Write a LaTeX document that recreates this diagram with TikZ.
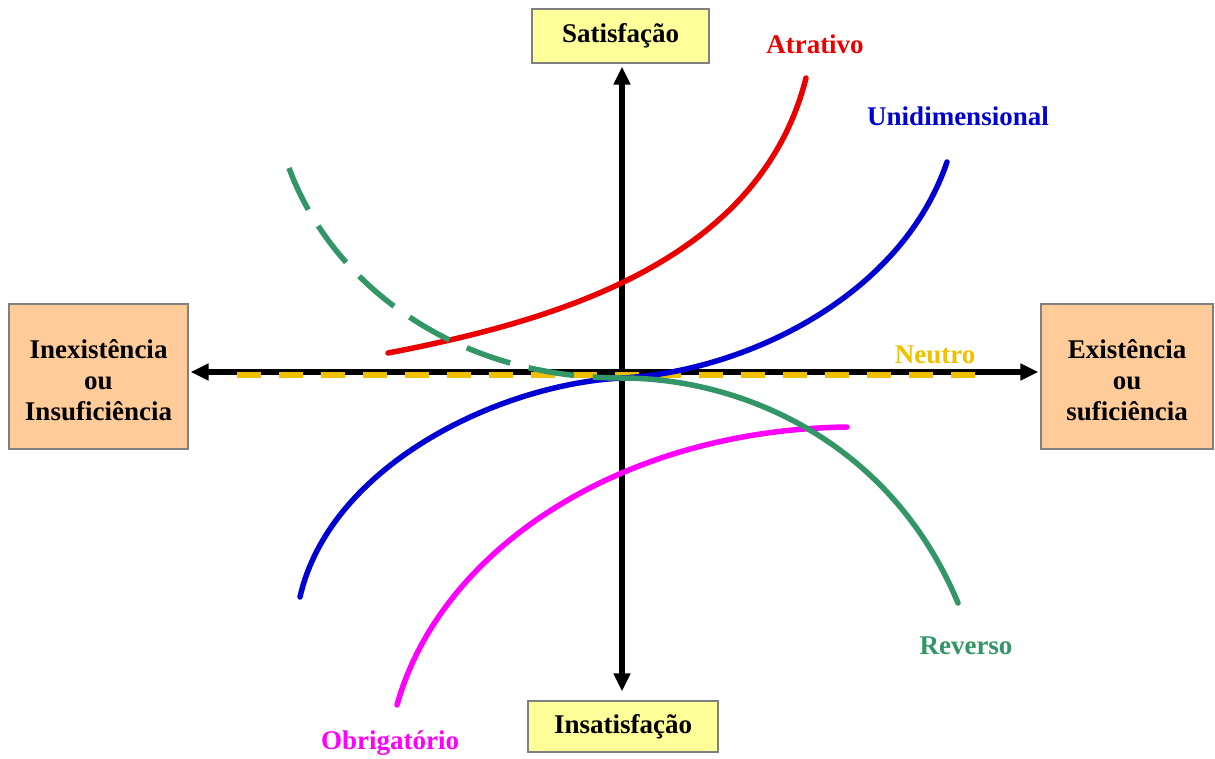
\documentclass[tikz,border=0pt]{standalone}
\usepackage{fontspec}
\setmainfont{Liberation Serif}
\usetikzlibrary{arrows.meta}

\definecolor{boxyellow}{RGB}{255,255,153}
\definecolor{boxpeach}{RGB}{255,204,153}
\definecolor{boxline}{RGB}{128,128,128}
\definecolor{kred}{RGB}{235,0,0}
\definecolor{kblue}{RGB}{0,0,210}
\definecolor{kgreen}{RGB}{51,150,102}
\definecolor{kmagenta}{RGB}{255,0,255}
\definecolor{kgold}{RGB}{240,192,0}

\tikzset{
  lbl/.style={font=\fontsize{27}{31}\selectfont\bfseries, inner sep=0pt},
  axisbox/.style={draw=boxline, line width=1.2pt, inner sep=0pt},
  axisline/.style={line width=5.5pt, -{Triangle[length=18pt,width=16pt]}},
  curve/.style={line width=5.5pt, line cap=round},
}

\begin{document}
\begin{tikzpicture}[x=1pt,y=-1pt]
\useasboundingbox (0,0) rectangle (1215,758);
\fill[white] (0,0) rectangle (1215,758);

% axis end boxes
\node[axisbox, lbl, fill=boxyellow, minimum width=177pt, minimum height=54pt] (sat) at (620.5,36) {Satisfação};
\node[axisbox, lbl, fill=boxyellow, minimum width=190pt, minimum height=51pt] (insat) at (623,726.5) {Insatisfação};
\node[axisbox, fill=boxpeach, minimum width=179pt, minimum height=145pt] (inex) at (98.5,376.5) {};
\node[axisbox, fill=boxpeach, minimum width=172pt, minimum height=145pt] (exist) at (1127,376.5) {};
\node[lbl, align=center] (inextxt) at ([yshift=-4pt]inex.center) {Inexistência\\ou\\Insuficiência};
\node[lbl, align=center] (existxt) at ([yshift=-4pt]exist.center) {Existência\\ou\\suficiência};

\coordinate (o) at (622,372);

% axes
\draw[axisline, shorten >=2pt] (o) -- (inex.east |- o);
\draw[axisline, shorten >=2pt] (o) -- (exist.west |- o);
\draw[axisline, shorten >=3pt] (o) -- (o |- sat.south);
\draw[axisline, shorten >=9pt] (o) -- (o |- insat.north);

% neutral line
\coordinate (n0) at (237,375);
\coordinate (n1) at (980,375);
\draw[kgold, line width=5.5pt, dash pattern=on 24pt off 18pt] (n0) -- (n1);

% attractive
\coordinate (a0) at (388,353);
\coordinate (a1) at (806,78);
\draw[curve, kred] (a0) .. controls (560,320) and (760,260) .. (a1);

% one-dimensional
\coordinate (c) at (622,378);
\coordinate (u0) at (300,597);
\coordinate (u1) at (947,162);
\draw[curve, kblue] (u0) .. controls (330,465) and (500,384) .. (c)
                         .. controls (740,372) and (900,300) .. (u1);

% must-be
\coordinate (m0) at (397,705);
\coordinate (m1) at (847,427);
\draw[curve, kmagenta] (m0) .. controls (440,550) and (620,430) .. (m1);

% reverse
\coordinate (r0) at (289,168);
\coordinate (r1) at (958,603);
\draw[line width=5.5pt, kgreen, dash pattern=on 46pt off 19pt] (r0) .. controls (330,280) and (450,378) .. (c);
\draw[curve, kgreen] (c) .. controls (740,378) and (890,440) .. (r1);

% curve labels
\node[lbl, text=kred] (latr) at (815,44) {Atrativo};
\node[lbl, text=kblue] (luni) at (958,116) {Unidimensional};
\node[lbl, text=kgold] (lneu) at (935,355) {Neutro};
\node[lbl, text=kgreen] (lrev) at (966,646) {Reverso};
\node[lbl, text=kmagenta] (lobr) at (390,743) {Obrigatório};
\end{tikzpicture}
\end{document}
